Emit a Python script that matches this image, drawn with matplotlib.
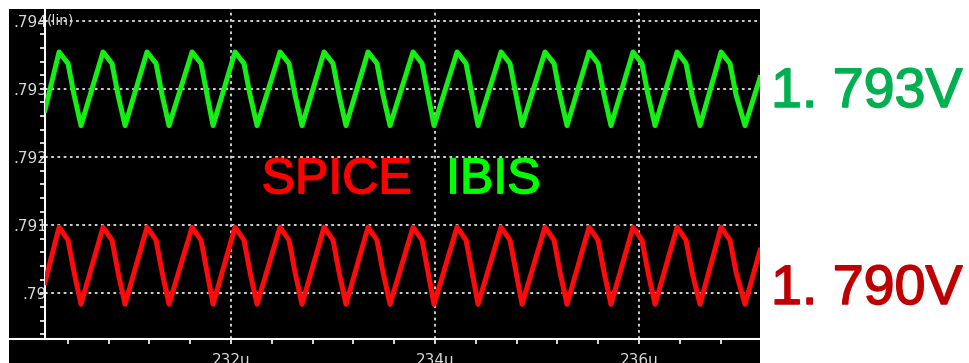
import matplotlib.pyplot as plt
import matplotlib.patheffects as pe
from matplotlib.patches import Rectangle
from matplotlib.lines import Line2D
from matplotlib.ticker import MultipleLocator, FuncFormatter

# -----------------------------
# Data (time in us, voltage in V)
# -----------------------------
# vertices per cycle: peak, shoulder, knee, trough
t_us = [
    230.176,
    230.314, 230.402, 230.461, 230.529,
    230.745, 230.833, 230.892, 230.961,
    231.176, 231.265, 231.324, 231.392,
    231.618, 231.706, 231.765, 231.824,
    232.039, 232.127, 232.186, 232.255,
    232.480, 232.569, 232.627, 232.696,
    232.912, 233.000, 233.059, 233.127,
    233.343, 233.431, 233.490, 233.559,
    233.784, 233.873, 233.931, 233.990,
    234.216, 234.304, 234.363, 234.422,
    234.647, 234.735, 234.794, 234.853,
    235.078, 235.167, 235.225, 235.294,
    235.510, 235.598, 235.657, 235.725,
    235.941, 236.029, 236.088, 236.157,
    236.373, 236.461, 236.520, 236.598,
    236.804, 236.892, 236.951, 237.039,
    237.186,
]

ibis_v = [
    0.79269,
    0.79354, 0.79337, 0.79291, 0.79246,
    0.79354, 0.79337, 0.79291, 0.79246,
    0.79354, 0.79337, 0.79291, 0.79246,
    0.79354, 0.79337, 0.79291, 0.79246,
    0.79354, 0.79337, 0.79291, 0.79246,
    0.79354, 0.79337, 0.79291, 0.79246,
    0.79354, 0.79337, 0.79291, 0.79246,
    0.79354, 0.79337, 0.79291, 0.79246,
    0.79354, 0.79337, 0.79291, 0.79246,
    0.79354, 0.79337, 0.79291, 0.79246,
    0.79354, 0.79337, 0.79291, 0.79246,
    0.79354, 0.79337, 0.79291, 0.79246,
    0.79354, 0.79337, 0.79291, 0.79246,
    0.79354, 0.79337, 0.79291, 0.79246,
    0.79354, 0.79337, 0.79291, 0.79246,
    0.79354, 0.79337, 0.79291, 0.79246,
    0.79316,
]

spice_v = [
    0.79016,
    0.79097, 0.79078, 0.79031, 0.78984,
    0.79097, 0.79078, 0.79031, 0.78984,
    0.79097, 0.79078, 0.79031, 0.78984,
    0.79097, 0.79078, 0.79031, 0.78984,
    0.79097, 0.79078, 0.79031, 0.78984,
    0.79097, 0.79078, 0.79031, 0.78984,
    0.79097, 0.79078, 0.79031, 0.78984,
    0.79097, 0.79078, 0.79031, 0.78984,
    0.79097, 0.79078, 0.79031, 0.78984,
    0.79097, 0.79078, 0.79031, 0.78984,
    0.79097, 0.79078, 0.79031, 0.78984,
    0.79097, 0.79078, 0.79031, 0.78984,
    0.79097, 0.79078, 0.79031, 0.78984,
    0.79097, 0.79078, 0.79031, 0.78984,
    0.79097, 0.79078, 0.79031, 0.78984,
    0.79097, 0.79078, 0.79031, 0.78984,
    0.79063,
]

y_ticks = [0.790, 0.791, 0.792, 0.793, 0.794]
y_tick_labels = [".79", ".791", ".792", ".793", ".794"]
x_ticks = [232, 234, 236]

ibis_label = "1. 793V"
spice_label = "1. 790V"

# -----------------------------
# Figure
# -----------------------------
W, H = 970, 363
fig = plt.figure(figsize=(W / 100, H / 100), dpi=100, facecolor="white")

# black scope background
fig.add_artist(Rectangle((9 / W, 0), (760 - 9) / W, (H - 9) / H,
                         transform=fig.transFigure, facecolor="black",
                         edgecolor="none", zorder=0))

ax = fig.add_axes([45 / W, 24 / H, (760 - 45) / W, (339 - 9) / H])
ax.set_facecolor("black")

grid_col = "#d0d0d0"
for yv in y_ticks:
    ax.axhline(yv, color=grid_col, lw=1.4, ls=(0, (1.4, 1.8)), zorder=1)
for xv in x_ticks:
    ax.axvline(xv, color=grid_col, lw=1.4, ls=(0, (1.4, 1.8)), zorder=1)

ax.plot(t_us, ibis_v, color="#14f014", lw=3.6,
        solid_joinstyle="round", zorder=3)
ax.plot(t_us, spice_v, color="#ff0a0a", lw=3.6,
        solid_joinstyle="round", zorder=3)

ax.set_xlim(230.176, 237.186)
ax.set_ylim(0.78933, 0.79417)

# axes styling
for s in ["top", "right"]:
    ax.spines[s].set_visible(False)
for s in ["left", "bottom"]:
    ax.spines[s].set_color("white")
    ax.spines[s].set_linewidth(1.5)

ax.set_yticks(y_ticks)
ax.set_yticklabels(y_tick_labels)
ax.yaxis.set_minor_locator(MultipleLocator(0.0002))
ax.set_xticks(x_ticks)
ax.xaxis.set_major_formatter(FuncFormatter(lambda v, p: f"{v:.0f}u"))
ax.xaxis.set_minor_locator(MultipleLocator(0.4))

ax.tick_params(axis="both", which="both", direction="out", length=3.6,
               width=1.2, color="white")
ax.tick_params(axis="y", which="major", pad=-5, labelsize=11,
               labelcolor="#d8d8d8")
ax.tick_params(axis="x", which="major", pad=6.5, labelsize=11,
               labelcolor="#d8d8d8")

# bottom axis line runs to the left edge of the scope panel
fig.add_artist(Line2D([9 / W, 45 / W], [24 / H, 24 / H], color="white",
                      lw=1.5, transform=fig.transFigure, zorder=2))

ax.text(47 / W, (H - 20) / H, "(lin)", transform=fig.transFigure,
        color="#d8d8d8", fontsize=10, va="center", ha="left")

# labels
def heavy(col):
    return [pe.withStroke(linewidth=1.1, foreground=col)]

ax.text(0.303, 0.442, "SPICE", transform=ax.transAxes, color="#ff0000",
        fontsize=36, family="Liberation Sans", ha="left", va="baseline",
        path_effects=heavy("#ff0000"))
ax.text(0.561, 0.442, "IBIS", transform=ax.transAxes, color="#00ff00",
        fontsize=36, family="Liberation Sans", ha="left", va="baseline",
        path_effects=heavy("#00ff00"))

fig.text(771 / W, (H - 107) / H, ibis_label, color="#00b050",
         fontsize=40, family="Liberation Sans", ha="left", va="baseline",
         path_effects=heavy("#00b050"))
fig.text(771 / W, (H - 304) / H, spice_label, color="#c00000",
         fontsize=40, family="Liberation Sans", ha="left", va="baseline",
         path_effects=heavy("#c00000"))

plt.savefig("out.png", dpi=100, facecolor="white")
